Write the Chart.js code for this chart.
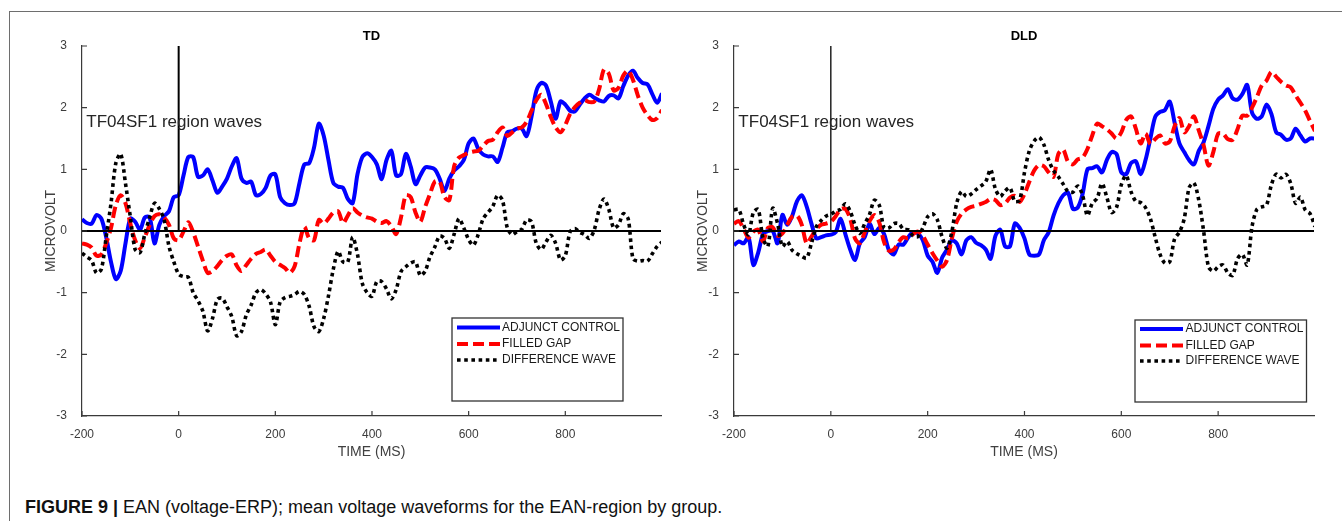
<!DOCTYPE html>
<html>
<head>
<meta charset="utf-8">
<title>EAN voltage waveforms</title>
<script src="https://cdn.jsdelivr.net/npm/chart.js@4.4.1/dist/chart.umd.min.js"></script>
<style>
  html, body { margin: 0; padding: 0; background: #fff; }
  #page { position: relative; width: 1342px; height: 521px; overflow: hidden; font-family: "Liberation Sans", Arial, sans-serif; }
  #frame { position: absolute; left: 9px; top: 11px; width: 1340px; height: 520px; border-top: 1px solid #6e6e6e; border-left: 1px solid #6e6e6e; }
  canvas { position: absolute; top: 0; }
  #tdChart { left: 0; }
  #dldChart { left: 680px; }
  #caption { position: absolute; left: 25px; top: 496px; font-size: 18px; line-height: 22px; color: #111; white-space: nowrap; }
</style>
</head>
<body>
<div id="page">
  <div id="frame"></div>
  <canvas id="tdChart" width="680" height="470"></canvas>
  <canvas id="dldChart" width="662" height="470"></canvas>
  <div id="caption"><b>FIGURE 9 |</b> EAN (voltage-ERP); mean voltage waveforms for the EAN-region by group.</div>
</div>
<script>
// time axis in ms, one sample every 10 ms
const timeMs = [];
for (let t = -200; t <= 1000; t += 10) timeMs.push(t);

const xTickValues = [-200, 0, 200, 400, 600, 800];
const yTickValues = [-3, -2, -1, 0, 1, 2, 3];
const seriesLabels = ["ADJUNCT CONTROL", "FILLED GAP", "DIFFERENCE WAVE"];
const panelTitles = ["TD", "DLD"];
const regionNote = "TF04SF1 region waves";
const notePos = [-191, 1.77];

// TD group (microvolt), rows of 100 ms
const tdAdjunct = [
  0.19, 0.13, 0.12, 0.26, 0.2, -0.1, -0.5, -0.78, -0.65, -0.2,
  0.2, 0.15, 0.02, 0.22, 0.22, -0.2, 0.1, 0.24, 0.32, 0.55,
  0.58, 0.9, 1.2, 1.2, 0.88, 0.9, 1.0, 0.82, 0.62, 0.72,
  0.85, 1.05, 1.18, 0.85, 0.78, 0.8, 0.58, 0.6, 0.7, 0.9,
  0.92, 0.55, 0.45, 0.42, 0.45, 0.78, 1.08, 1.1, 1.35, 1.74,
  1.55, 1.15, 0.78, 0.72, 0.7, 0.52, 0.45, 0.92, 1.2, 1.26,
  1.2, 1.08, 0.84, 1.15, 1.3, 0.9, 0.92, 1.25, 1.05, 0.76,
  0.9, 1.03, 1.03, 1.0, 0.85, 0.65, 0.85, 0.98, 1.05, 1.15,
  1.42, 1.5, 1.33, 1.24, 1.21, 1.21, 1.12, 1.35, 1.6, 1.62,
  1.66, 1.66, 1.54, 1.85, 2.27, 2.4, 2.36, 2.1, 1.82, 2.1,
  2.05, 1.95, 1.94, 2.05, 2.15, 2.21, 2.16, 2.12, 2.1, 2.19,
  2.2, 2.15, 2.35, 2.52, 2.6, 2.48, 2.4, 2.38, 2.22, 2.08,
  2.23
];
const tdFilled = [
  -0.2, -0.22, -0.27, -0.4, -0.38, -0.2, 0.05, 0.42, 0.58, 0.45,
  0.12, -0.15, -0.28, -0.1, 0.1, 0.24, 0.27, 0.22, 0.1, -0.12,
  -0.15, -0.01, 0.14, -0.02, -0.25, -0.48, -0.68, -0.65, -0.57, -0.47,
  -0.4, -0.38, -0.56, -0.65, -0.55, -0.45, -0.37, -0.34, -0.3, -0.4,
  -0.5, -0.55, -0.6, -0.68, -0.57, -0.2, 0.07, -0.12, -0.15, 0.18,
  0.12, 0.2, 0.3, 0.32, 0.13, 0.25, 0.37, 0.3, 0.25, 0.22,
  0.2, 0.15, 0.13, 0.16, 0.08, -0.05, 0.22, 0.58, 0.55, 0.3,
  0.15, 0.39, 0.6, 0.8, 0.8, 0.55, 0.5, 1.05, 1.19, 1.23,
  1.27, 1.29, 1.3, 1.38, 1.46, 1.48, 1.6, 1.68, 1.54, 1.6,
  1.66, 1.68, 1.77, 1.95, 2.12, 2.21, 2.06, 1.85, 1.68, 1.6,
  1.72, 1.9, 2.01, 2.08, 2.12, 2.09, 2.1, 2.3, 2.62, 2.55,
  2.28, 2.32, 2.52, 2.6, 2.45, 2.2, 2.0, 1.88, 1.8, 1.83,
  1.96
];
const tdDiff = [
  -0.36, -0.42, -0.48, -0.68, -0.62, -0.1, 0.45, 1.1, 1.25, 0.77,
  0.23, -0.3, -0.35, -0.05, 0.22, 0.45, 0.36, 0.18, -0.25, -0.5,
  -0.7, -0.74, -0.75, -1.0, -1.13, -1.3, -1.62, -1.42, -1.11, -1.09,
  -1.23, -1.39, -1.7, -1.63, -1.36, -1.2, -1.0, -0.95, -1.02, -1.15,
  -1.52, -1.15, -1.08, -1.06, -1.03, -0.98, -1.03, -1.22, -1.55, -1.63,
  -1.42, -1.05, -0.62, -0.33, -0.5, -0.5, -0.1, -0.38, -0.85, -1.0,
  -1.06, -0.82, -0.82, -0.94, -1.1, -0.95, -0.66, -0.58, -0.52, -0.5,
  -0.72, -0.65, -0.42, -0.26, -0.08, -0.12, -0.28, -0.05, 0.2, 0.05,
  -0.14, -0.23, -0.05, 0.2, 0.3, 0.4, 0.58, 0.5, 0.05, -0.06,
  -0.01, 0.03, 0.18, 0.15, -0.2, -0.3, -0.18, -0.07, -0.2, -0.47,
  -0.4, -0.01, 0.04, -0.02, -0.06, -0.12, 0.02, 0.35, 0.52, 0.35,
  0.05, 0.1, 0.28, 0.2, -0.45, -0.49, -0.48, -0.49, -0.37, -0.25,
  -0.18
];

// DLD group (microvolt), rows of 100 ms
const dldAdjunct = [
  -0.23, -0.17, -0.2, -0.1, -0.55, -0.35, -0.05, 0.0, 0.0, -0.2,
  0.26, 0.1, 0.24, 0.48, 0.58, 0.4, 0.12, -0.12, -0.1, -0.07,
  -0.06, -0.02, 0.2, -0.05, -0.3, -0.47, -0.2, -0.1, 0.12, -0.05,
  0.05, -0.05, -0.31, -0.38, -0.22, -0.22, -0.1, -0.02, -0.04, -0.15,
  -0.4, -0.5, -0.68, -0.43, -0.3, -0.15, -0.2, -0.38, -0.15, -0.1,
  -0.19, -0.23, -0.3, -0.45, -0.08, 0.02, -0.25, -0.25, 0.12, 0.05,
  -0.12, -0.38, -0.4, -0.38, -0.15, -0.02, 0.25, 0.45, 0.58, 0.62,
  0.36, 0.38, 0.6, 1.0, 1.02, 1.05, 0.95, 1.15, 1.28, 1.25,
  0.95, 0.92, 1.1, 1.13, 0.92, 1.15, 1.5, 1.85, 1.93, 1.96,
  2.1, 1.76, 1.42, 1.28, 1.15, 1.08, 1.3, 1.44, 1.7, 1.98,
  2.13, 2.2, 2.3, 2.15, 2.13, 2.22, 2.37, 1.92, 1.82, 1.86,
  2.05, 1.9, 1.6, 1.56, 1.48, 1.5, 1.66, 1.55, 1.45, 1.5,
  1.5
];
const dldFilled = [
  0.12, 0.16, 0.03, -0.11, -0.01, 0.02, -0.17, 0.05, 0.06, -0.08,
  -0.04, 0.1, 0.23, 0.25, 0.1, -0.2, -0.09, 0.03, 0.1, 0.12,
  0.15, 0.24, 0.35, 0.36, 0.2, -0.12, -0.2, -0.02, 0.16, 0.26,
  0.14, -0.18, -0.32, -0.3, -0.18, -0.1, -0.12, -0.05, -0.01, -0.08,
  -0.22, -0.36, -0.48, -0.58, -0.47, -0.12, 0.15, 0.28, 0.35, 0.39,
  0.41, 0.44, 0.47, 0.52, 0.5, 0.42, 0.45, 0.54, 0.57, 0.47,
  0.6, 0.8, 0.98, 1.07, 1.05, 0.95, 0.88, 1.25, 1.32, 1.12,
  1.08, 1.16, 1.19, 1.33, 1.55, 1.74, 1.7, 1.65, 1.58, 1.5,
  1.6, 1.8, 1.86, 1.66, 1.42, 1.58, 1.41, 1.49, 1.55, 1.42,
  1.45, 1.7, 1.83, 1.6, 1.7, 1.86, 1.63, 1.39, 1.06, 1.28,
  1.58, 1.58, 1.49, 1.48, 1.65, 1.87, 1.87, 2.0, 2.17, 2.36,
  2.44, 2.58, 2.5, 2.42, 2.36, 2.33, 2.2, 2.08, 1.95, 1.78,
  1.62
];
const dldDiff = [
  0.34, 0.35, 0.1, -0.06, 0.3, 0.35, -0.12, -0.25, 0.37, 0.12,
  -0.25, -0.17, -0.31, -0.37, -0.41, -0.44, -0.2, 0.07, 0.17, 0.24,
  0.27, 0.32, 0.35, 0.44, 0.32, 0.1, -0.04, 0.12, 0.27, 0.5,
  0.42, 0.05, 0.05, 0.12, 0.12, 0.03, 0.02, -0.08, -0.09, 0.05,
  0.23, 0.28, 0.18, -0.1, -0.28, -0.01, 0.45, 0.64, 0.56, 0.6,
  0.67, 0.73, 0.8, 1.0, 0.68, 0.56, 0.65, 0.7, 0.48, 0.5,
  0.95, 1.3, 1.46, 1.52, 1.4, 1.15, 0.98, 0.88, 0.76, 0.64,
  0.63, 0.73, 0.58, 0.25, 0.45, 0.53, 0.77, 0.55, 0.3, 0.38,
  0.75, 0.9, 0.64, 0.48, 0.46, 0.38, 0.2, -0.1, -0.38, -0.52,
  -0.5, -0.13, -0.02, 0.2, 0.7, 0.78, 0.5, 0.0, -0.58, -0.65,
  -0.58, -0.55, -0.68, -0.72, -0.45, -0.38, -0.55, 0.07, 0.35, 0.39,
  0.42, 0.75, 0.92, 0.86, 0.92, 0.77, 0.45, 0.55, 0.34, 0.28,
  0.07
];

const FONT = "'Liberation Sans', Arial, sans-serif";
const X_MIN = -200, X_MAX = 998, Y_MIN = -3, Y_MAX = 3;

const seriesStyles = [
  { color: "#0000ff", width: 4, dash: [] },
  { color: "#ff0000", width: 4, dash: [11, 5] },
  { color: "#000000", width: 3.6, dash: [3.6, 3.6] }
];

function wave(values) {
  return timeMs.map((t, i) => ({ x: t, y: values[i] }));
}

// titles, inward ticks, note text and the boxed legend
const panelDecor = {
  id: "panelDecor",
  afterDraw(chart, args, opts) {
    const ctx = chart.ctx;
    const a = chart.chartArea;
    const x = chart.scales.x, y = chart.scales.y;
    ctx.save();

    ctx.strokeStyle = "#3a3a3a";
    ctx.lineWidth = 1.2;
    ctx.beginPath();
    yTickValues.forEach(v => {
      const py = y.getPixelForValue(v);
      ctx.moveTo(a.left, py);
      ctx.lineTo(a.left + 5, py);
    });
    xTickValues.forEach(v => {
      const px = x.getPixelForValue(v);
      ctx.moveTo(px, a.bottom);
      ctx.lineTo(px, a.bottom - 5);
    });
    ctx.stroke();

    ctx.textAlign = "center";
    ctx.textBaseline = "middle";
    ctx.fillStyle = "#000";
    ctx.font = "bold 13px " + FONT;
    ctx.fillText(opts.title, (a.left + a.right) / 2, 36);

    ctx.fillStyle = "#404040";
    ctx.font = "14px " + FONT;
    ctx.fillText("TIME (MS)", (a.left + a.right) / 2, 452);
    ctx.save();
    ctx.translate(a.left - 31, (a.top + a.bottom) / 2);
    ctx.rotate(-Math.PI / 2);
    ctx.fillText("MICROVOLT", 0, 0);
    ctx.restore();

    ctx.textAlign = "left";
    ctx.fillStyle = "#262626";
    ctx.font = "17px " + FONT;
    ctx.fillText(regionNote, x.getPixelForValue(notePos[0]), y.getPixelForValue(notePos[1]));

    const L = opts.legend;
    ctx.fillStyle = "#fff";
    ctx.fillRect(L.left, L.top, L.right - L.left, L.bottom - L.top);
    ctx.strokeStyle = "#333";
    ctx.lineWidth = 1.3;
    ctx.strokeRect(L.left, L.top, L.right - L.left, L.bottom - L.top);
    ctx.font = "12px " + FONT;
    seriesStyles.forEach((s, i) => {
      const ry = L.rows[i];
      ctx.strokeStyle = s.color;
      ctx.lineWidth = s.width;
      ctx.setLineDash(s.dash);
      ctx.beginPath();
      ctx.moveTo(L.sampleLeft, ry);
      ctx.lineTo(L.sampleRight, ry);
      ctx.stroke();
      ctx.setLineDash([]);
      ctx.fillStyle = "#1a1a1a";
      ctx.fillText(seriesLabels[i], L.textLeft, ry);
    });
    ctx.restore();
  }
};

function makePanel(canvasId, title, waves, box) {
  const sets = [
    { data: [{ x: X_MIN, y: 0 }, { x: X_MAX, y: 0 }], borderColor: "#000", borderWidth: 2 },
    { data: [{ x: 0, y: 0 }, { x: 0, y: Y_MAX }], borderColor: "#000", borderWidth: box.onsetWidth },
    { data: wave(waves[2]), borderColor: seriesStyles[2].color, borderWidth: seriesStyles[2].width, borderDash: seriesStyles[2].dash },
    { data: wave(waves[1]), borderColor: seriesStyles[1].color, borderWidth: seriesStyles[1].width, borderDash: seriesStyles[1].dash },
    { data: wave(waves[0]), borderColor: seriesStyles[0].color, borderWidth: seriesStyles[0].width }
  ];
  sets.forEach(s => { s.pointRadius = 0; s.fill = false; s.tension = 0.3; });

  return new Chart(document.getElementById(canvasId).getContext("2d"), {
    type: "line",
    data: { datasets: sets },
    options: {
      responsive: false,
      animation: false,
      devicePixelRatio: 1,
      events: [],
      layout: { padding: { top: 46, right: box.padRight, bottom: 0, left: 0 } },
      plugins: {
        legend: { display: false },
        tooltip: { enabled: false },
        panelDecor: { title: title, legend: box.legend }
      },
      scales: {
        x: {
          type: "linear",
          min: X_MIN,
          max: X_MAX,
          afterBuildTicks: s => { s.ticks = xTickValues.map(v => ({ value: v })); },
          afterFit: s => { s.height = 54; },
          grid: { display: false },
          border: { display: true, color: "#3a3a3a", width: 1.2 },
          ticks: { color: "#3c3c3c", padding: 3, font: { family: FONT, size: 12 } }
        },
        y: {
          type: "linear",
          min: Y_MIN,
          max: Y_MAX,
          afterBuildTicks: s => { s.ticks = yTickValues.map(v => ({ value: v })); },
          afterFit: s => { s.width = box.axisLeft; },
          grid: { display: false },
          border: { display: true, color: "#3a3a3a", width: 1.2 },
          ticks: { color: "#3c3c3c", padding: 7, font: { family: FONT, size: 12 } }
        }
      }
    },
    plugins: [panelDecor]
  });
}

makePanel("tdChart", panelTitles[0], [tdAdjunct, tdFilled, tdDiff], {
  axisLeft: 82, padRight: 19, onsetWidth: 2,
  legend: { left: 452, top: 318, right: 623, bottom: 401, rows: [327.5, 344, 360], sampleLeft: 457, sampleRight: 500, textLeft: 502 }
});
makePanel("dldChart", panelTitles[1], [dldAdjunct, dldFilled, dldDiff], {
  axisLeft: 54, padRight: 28, onsetWidth: 1.3,
  legend: { left: 455, top: 320, right: 626.5, bottom: 402, rows: [329, 345.5, 361], sampleLeft: 460, sampleRight: 503, textLeft: 505.5 }
});
</script>
</body>
</html>
